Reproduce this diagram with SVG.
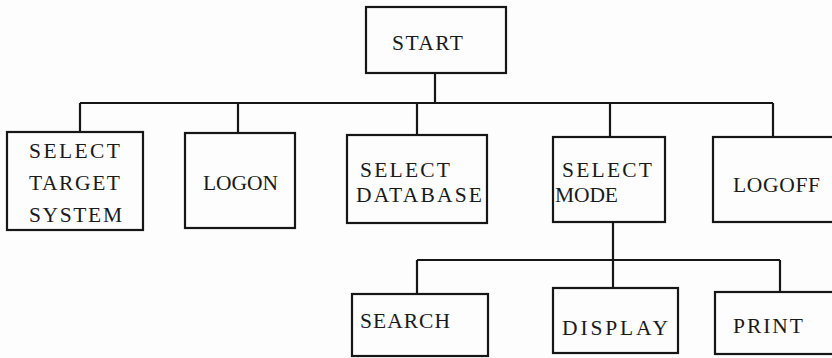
<svg xmlns="http://www.w3.org/2000/svg" width="832" height="358" viewBox="0 0 832 358">
<style>
.box{fill:none;stroke:#161616;stroke-width:2.2}
.lbl{font-family:"Liberation Serif","Times New Roman",serif;font-size:21.5px;fill:#1a1a1a}
.con{fill:none;stroke:#161616;stroke-width:2.2}
</style>
<rect x="0" y="0" width="832" height="358" fill="#fdfdfd"/>
<g id="connectors">
<path class="con" d="M435 73V103M80 103H773M80 103V132M238 103V133M417 103V135M610 103V137M773 103V137"/>
<path class="con" d="M613 222V260M417 260H780M417 260V294M613 260V288M780 260V292"/>
</g>
<g id="start"><rect class="box" x="366" y="7" width="140" height="66"/><text class="lbl" x="392" y="50" textLength="71" lengthAdjust="spacing">START</text></g>
<g id="select-target-system"><rect class="box" x="7" y="132" width="136" height="98"/>
<text class="lbl" x="29" y="158" textLength="91" lengthAdjust="spacing">SELECT</text>
<text class="lbl" x="29" y="190" textLength="91" lengthAdjust="spacing">TARGET</text>
<text class="lbl" x="29" y="222" textLength="93" lengthAdjust="spacing">SYSTEM</text></g>
<g id="logon"><rect class="box" x="185" y="133" width="110" height="95"/><text class="lbl" x="203" y="190" textLength="75" lengthAdjust="spacing">LOGON</text></g>
<g id="select-database"><rect class="box" x="347" y="135" width="140" height="88"/>
<text class="lbl" x="360" y="177" textLength="90" lengthAdjust="spacing">SELECT</text>
<text class="lbl" x="356" y="202" textLength="126" lengthAdjust="spacing">DATABASE</text></g>
<g id="select-mode"><rect class="box" x="553" y="137" width="112" height="85"/>
<text class="lbl" x="562" y="177" textLength="90" lengthAdjust="spacing">SELECT</text>
<text class="lbl" x="555" y="202" textLength="63" lengthAdjust="spacing">MODE</text></g>
<g id="logoff"><rect class="box" x="713" y="137" width="140" height="85"/><text class="lbl" x="733" y="192" textLength="87" lengthAdjust="spacing">LOGOFF</text></g>
<g id="search"><rect class="box" x="352" y="294" width="136" height="62"/><text class="lbl" x="360" y="328" textLength="90" lengthAdjust="spacing">SEARCH</text></g>
<g id="display"><rect class="box" x="553" y="288" width="125" height="65"/><text class="lbl" x="562" y="335" textLength="106" lengthAdjust="spacing">DISPLAY</text></g>
<g id="print"><rect class="box" x="715" y="292" width="140" height="62"/><text class="lbl" x="733" y="333" textLength="70" lengthAdjust="spacing">PRINT</text></g>
</svg>
